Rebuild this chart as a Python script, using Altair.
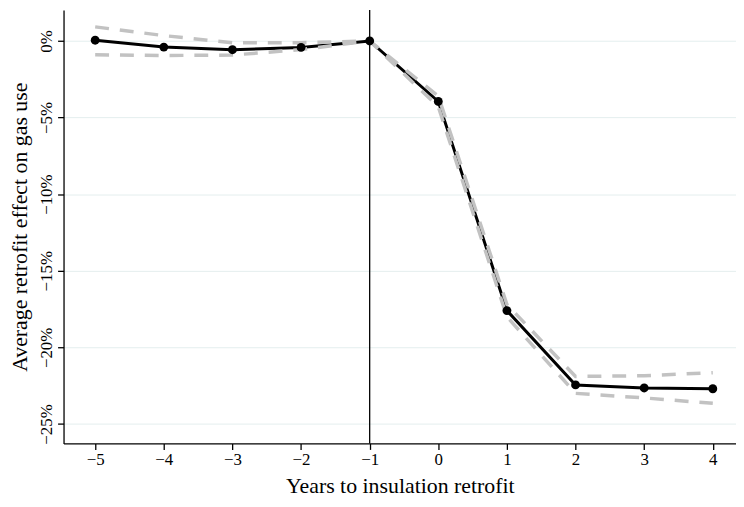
import altair as alt
import pandas as pd

years = [-5, -4, -3, -2, -1, 0, 1, 2, 3, 4]
coef = [0.05, -0.40, -0.57, -0.42, 0.0, -3.95, -17.6, -22.45, -22.65, -22.7]
upper = [0.92, 0.35, -0.12, -0.11, 0.0, -3.6, -17.2, -21.9, -21.85, -21.65]
lower = [-0.90, -0.95, -0.92, -0.56, 0.0, -4.3, -18.0, -23.0, -23.3, -23.65]
x_ticks = [-5, -4, -3, -2, -1, 0, 1, 2, 3, 4]
y_ticks = [0, -5, -10, -15, -20, -25]
event_year = -1

df = pd.DataFrame({"year": years, "coef": coef})
ci = pd.DataFrame({
    "year": years * 2,
    "val": upper + lower,
    "bound": ["upper"] * len(years) + ["lower"] * len(years),
})

FONT = "Liberation Serif"
xscale = alt.Scale(domain=[-5.461, 4.338], nice=False, zero=False)
yscale = alt.Scale(domain=[-26.27, 2.02], nice=False, zero=False)

xaxis = alt.Axis(values=x_ticks, format="d", title="Years to insulation retrofit", grid=False,
                 labelFontSize=17, titleFontSize=22, labelPadding=2, titlePadding=8,
                 titleFontWeight="normal")
yaxis = alt.Axis(values=y_ticks, format="d", title="Average retrofit effect on gas use", grid=True,
                 labelExpr="datum.label + '%'", labelAngle=270, labelAlign="center",
                 labelBaseline="bottom", labelFontSize=17, titleFontSize=22,
                 labelPadding=2, titlePadding=6, titleFontWeight="normal")

base = alt.Chart(df)
line = base.mark_line(color="black", strokeWidth=3).encode(
    x=alt.X("year:Q", scale=xscale, axis=xaxis),
    y=alt.Y("coef:Q", scale=yscale, axis=yaxis),
)
ci_lines = alt.Chart(ci).mark_line(color="#c2c2c2", strokeWidth=3.5, strokeDash=[14, 11]).encode(
    x=alt.X("year:Q", scale=xscale),
    y=alt.Y("val:Q", scale=yscale),
    detail="bound:N",
)
points = base.mark_circle(color="black", size=80, opacity=1).encode(
    x=alt.X("year:Q", scale=xscale),
    y=alt.Y("coef:Q", scale=yscale),
)
vline = alt.Chart(pd.DataFrame({"x": [event_year]})).mark_rule(color="black", strokeWidth=1.3).encode(
    x=alt.X("x:Q", scale=xscale)
)

chart = alt.layer(vline, line, ci_lines, points).properties(
    width=678, height=437,
    autosize=alt.AutoSizeParams(type="none"),
    padding={"left": 56, "top": 0, "right": 0, "bottom": 56},
    background="white",
).configure_view(stroke=None).configure_axis(
    labelFont=FONT, titleFont=FONT, labelColor="black", titleColor="black",
    domainColor="black", tickColor="black", domainWidth=1.3, tickWidth=1.3, tickSize=6,
    gridColor="#e4eeee", gridWidth=1,
)

chart.save("out.html", embed_options={"renderer": "svg", "actions": False})
